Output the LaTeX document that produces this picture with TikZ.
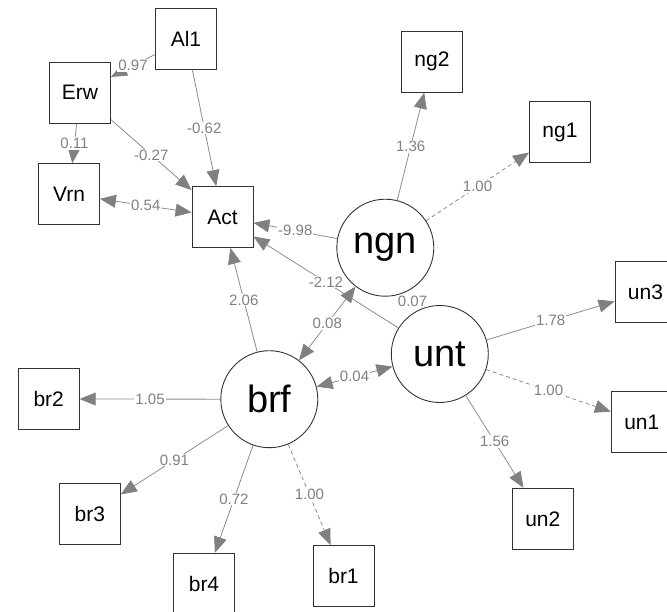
\documentclass[tikz,border=0pt]{standalone}
\usepackage{fontspec}
\setmainfont{Liberation Sans}
\usetikzlibrary{arrows.meta}
\definecolor{edgec}{HTML}{8C8C8C}
\definecolor{tipc}{HTML}{808080}
\definecolor{lblc}{HTML}{808080}
\definecolor{bordc}{HTML}{333333}
\begin{document}
\begin{tikzpicture}[x=1pt,y=-1pt,
  obs/.style={draw=bordc, line width=0.9pt, minimum width=61pt, minimum height=61pt, inner sep=0pt, font=\fontsize{21}{24}\selectfont},
  lat/.style={circle, draw=bordc, line width=0.9pt, minimum size=97pt, inner sep=0pt, font=\fontsize{38}{42}\selectfont},
  lbl/.style={fill=white, text=lblc, inner sep=1pt, font=\fontsize{15}{17}\selectfont},
  regr/.style={draw=edgec, line width=0.8pt, -{Triangle[length=16pt,width=13pt,color=tipc]}},
  cov/.style={draw=edgec, line width=0.8pt, {Triangle[length=16pt,width=13pt,color=tipc]}-{Triangle[length=16pt,width=13pt,color=tipc]}},
  fixedl/.style={regr, dash pattern=on 4pt off 3pt}]
\useasboundingbox (0,0) rectangle (667,611);
\clip (0,0) rectangle (667,611);
% observed variables
\node[obs] (Al1) at (186,38.7) {Al1};
\node[obs] (Erw) at (80,92.7) {Erw};
\node[obs] (Vrn) at (69,194.3) {Vrn};
\node[obs] (Act) at (222.5,217) {Act};
\node[obs] (ng2) at (432,61.7) {ng2};
\node[obs] (ng1) at (560,132) {ng1};
\node[obs] (br2) at (48.7,399) {br2};
\node[obs] (br3) at (89.8,514.3) {br3};
\node[obs] (br4) at (204,583.7) {br4};
\node[obs] (br1) at (343.5,576) {br1};
\node[obs] (un3) at (645.5,292) {un3};
\node[obs] (un1) at (641.8,422) {un1};
\node[obs] (un2) at (542.8,518.8) {un2};
% latent variables
\node[lat] (ngn) at (385.3,247.7) {ngn};
\node[lat] (brf) at (269.3,399.2) {brf};
\node[lat] (unt) at (439.8,354) {unt};
% regressions
\draw[regr] (Al1) -- node[lbl] {0.97} (Erw);
\draw[regr] (Al1) -- node[lbl] {-0.62} (Act);
\draw[regr] (Erw) -- node[lbl] {0.11} (Vrn);
\draw[regr] (Erw) -- node[lbl] {-0.27} (Act);
\draw[cov] (Vrn) -- node[lbl] {0.54} (Act);
\draw[regr] (ngn) -- node[lbl] {-9.98} (Act);
\draw[regr] (unt) -- node[lbl] {-2.12} (Act);
\draw[regr] (brf) -- node[lbl] {2.06} (Act);
\draw[cov] (brf) -- node[lbl] {0.08} (ngn);
\draw[cov] (brf) -- node[lbl] {0.04} (unt);
\path (ngn) -- node[lbl] {0.07} (unt);
% loadings
\draw[regr] (ngn) -- node[lbl] {1.36} (ng2);
\draw[fixedl] (ngn) -- node[lbl] {1.00} (ng1);
\draw[regr] (unt) -- node[lbl] {1.78} (un3);
\draw[fixedl] (unt) -- node[lbl] {1.00} (un1);
\draw[regr] (unt) -- node[lbl] {1.56} (un2);
\draw[regr] (brf) -- node[lbl] {1.05} (br2);
\draw[regr] (brf) -- node[lbl] {0.91} (br3);
\draw[regr] (brf) -- node[lbl] {0.72} (br4);
\draw[fixedl] (brf) -- node[lbl] {1.00} (br1);
\end{tikzpicture}
\end{document}
